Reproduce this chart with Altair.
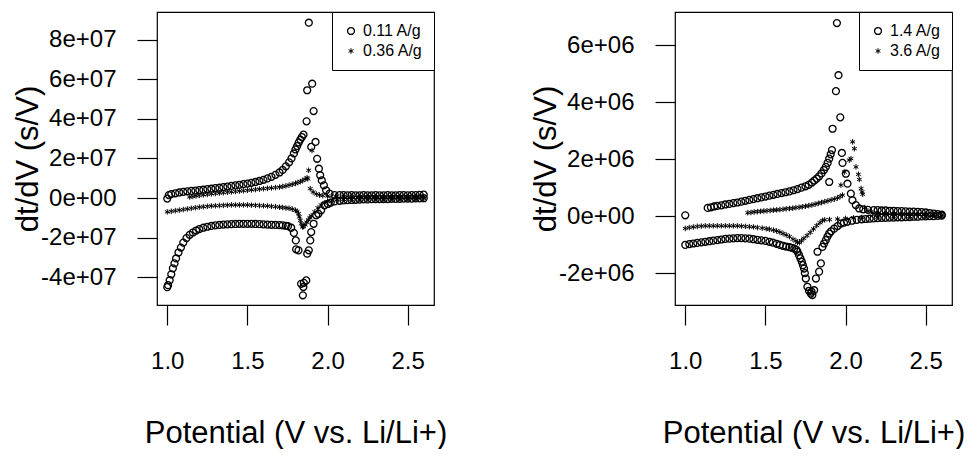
import altair as alt
import pandas as pd

FONT = "Liberation Sans"
STAR = "M0,-0.8L0,0.8M-0.7,-0.4L0.7,0.4M-0.7,0.4L0.7,-0.4"

# ---------------- left panel (y in units of 1e7 s/V) ----------------
left_labels = ["0.11 A/g", "0.36 A/g"]

a_chg_x = [1.00, 1.01, 1.025, 1.05, 1.075, 1.10, 1.125, 1.15, 1.175, 1.20, 1.225, 1.25, 1.275,
           1.30, 1.325, 1.35, 1.375, 1.40, 1.425, 1.45, 1.475, 1.50, 1.525, 1.55, 1.575, 1.60,
           1.625, 1.65, 1.675, 1.70, 1.72, 1.74, 1.76, 1.775, 1.79, 1.80, 1.81, 1.82, 1.83, 1.84,
           1.85, 1.869, 1.873, 1.883, 1.904, 1.913, 1.898, 1.925, 1.935, 1.946, 1.954, 1.964,
           1.977, 1.991, 2.012, 2.044, 2.075, 2.10, 2.125, 2.15, 2.175, 2.20, 2.225, 2.25, 2.275,
           2.30, 2.325, 2.35, 2.375, 2.40, 2.425, 2.45, 2.475, 2.50, 2.525, 2.55, 2.575, 2.60]
a_chg_y = [-0.03, 0.15, 0.20, 0.24, 0.28, 0.31, 0.34, 0.36, 0.38, 0.40, 0.42, 0.45, 0.47,
           0.50, 0.52, 0.55, 0.58, 0.61, 0.64, 0.67, 0.70, 0.73, 0.77, 0.81, 0.86, 0.92,
           0.99, 1.07, 1.17, 1.29, 1.42, 1.60, 1.80, 2.00, 2.25, 2.45, 2.62, 2.80, 2.95, 3.08,
           3.20, 3.87, 5.44, 8.85, 5.77, 4.39, 2.58, 2.83, 1.98, 1.48, 1.15, 0.89,
           0.64, 0.39, 0.22, 0.15, 0.15, 0.15, 0.14, 0.15, 0.14, 0.14, 0.15, 0.14, 0.14,
           0.15, 0.14, 0.14, 0.15, 0.14, 0.14, 0.15, 0.15, 0.14, 0.15, 0.15, 0.16, 0.17]

a_dis_x = [2.60, 2.575, 2.55, 2.525, 2.50, 2.475, 2.45, 2.425, 2.40, 2.375, 2.35, 2.325, 2.30,
           2.275, 2.25, 2.225, 2.20, 2.175, 2.15, 2.125, 2.10, 2.075, 2.044, 2.02, 2.002, 1.981,
           1.96, 1.943, 1.929, 1.913, 1.898, 1.892, 1.883, 1.873, 1.867, 1.852, 1.846, 1.849,
           1.835, 1.819, 1.804, 1.802, 1.79, 1.773, 1.753, 1.74, 1.72, 1.70, 1.675, 1.65, 1.625,
           1.60, 1.575, 1.55, 1.525, 1.50, 1.475, 1.45, 1.425, 1.40, 1.375, 1.35, 1.325, 1.30,
           1.275, 1.25, 1.225, 1.20, 1.18, 1.16, 1.14, 1.12, 1.10, 1.085, 1.07, 1.055, 1.045,
           1.035, 1.025, 1.015, 1.005, 1.00]
a_dis_y = [-0.01, -0.02, -0.02, -0.03, -0.03, -0.03, -0.04, -0.04, -0.04, -0.05, -0.05, -0.05, -0.06,
           -0.06, -0.07, -0.07, -0.08, -0.09, -0.10, -0.11, -0.12, -0.14, -0.17, -0.23, -0.30, -0.37,
           -0.62, -0.80, -0.87, -1.30, -1.72, -2.14, -2.64, -2.81, -4.16, -4.28, -4.91, -4.49,
           -4.33, -2.64, -2.59, -2.14, -1.76, -1.50, -1.42, -1.40, -1.38, -1.37, -1.36, -1.35, -1.34,
           -1.33, -1.32, -1.31, -1.30, -1.30, -1.30, -1.30, -1.31, -1.32, -1.33, -1.34, -1.36, -1.38,
           -1.41, -1.45, -1.50, -1.57, -1.64, -1.74, -1.86, -2.02, -2.25, -2.50, -2.75, -3.05, -3.30,
           -3.55, -3.85, -4.15, -4.40, -4.50]

b_chg_x = [1.14, 1.16, 1.18, 1.20, 1.225, 1.25, 1.275, 1.30, 1.325, 1.35, 1.375, 1.40, 1.425,
           1.45, 1.475, 1.50, 1.525, 1.55, 1.575, 1.60, 1.625, 1.65, 1.675, 1.70, 1.72, 1.74,
           1.76, 1.78, 1.80, 1.815, 1.83, 1.845, 1.86, 1.872, 1.877, 1.882, 1.892, 1.903, 1.91,
           1.93, 1.95, 1.97, 2.00, 2.05, 2.10, 2.15, 2.20, 2.25, 2.30, 2.35, 2.40, 2.45, 2.50,
           2.55, 2.60]
b_chg_y = [0.05, 0.08, 0.11, 0.13, 0.16, 0.18, 0.21, 0.23, 0.25, 0.27, 0.29, 0.31, 0.33,
           0.35, 0.37, 0.39, 0.41, 0.43, 0.45, 0.47, 0.49, 0.51, 0.53, 0.55, 0.58, 0.61,
           0.65, 0.69, 0.74, 0.78, 0.83, 0.88, 0.95, 1.02, 0.97, 1.40, 0.47, 2.40, 0.30,
           0.20, 0.15, 0.12, 0.10, 0.09, 0.08, 0.08, 0.07, 0.07, 0.06, 0.06, 0.06, 0.05, 0.05,
           0.05, 0.05]

b_dis_x = [2.60, 2.55, 2.50, 2.45, 2.40, 2.35, 2.30, 2.25, 2.20, 2.15, 2.10, 2.06, 2.03, 2.00,
           1.98, 1.96, 1.94, 1.92, 1.898, 1.89, 1.88, 1.87, 1.86, 1.85, 1.843, 1.836, 1.83,
           1.824, 1.819, 1.81, 1.80, 1.78, 1.76, 1.74, 1.72, 1.70, 1.675, 1.65, 1.625, 1.60,
           1.575, 1.55, 1.525, 1.50, 1.475, 1.45, 1.425, 1.40, 1.375, 1.35, 1.325, 1.30, 1.275,
           1.25, 1.225, 1.20, 1.175, 1.15, 1.125, 1.10, 1.075, 1.05, 1.025, 1.00]
b_dis_y = [-0.02, -0.02, -0.03, -0.03, -0.03, -0.04, -0.04, -0.04, -0.05, -0.06, -0.07, -0.08, -0.12, -0.18,
           -0.25, -0.35, -0.50, -0.70, -0.90, -1.00, -1.10, -1.22, -1.35, -1.44, -1.46, -1.30, -1.13,
           -0.95, -0.79, -0.68, -0.62, -0.56, -0.52, -0.50, -0.48, -0.46, -0.44, -0.42, -0.40, -0.39,
           -0.38, -0.37, -0.36, -0.35, -0.35, -0.35, -0.35, -0.35, -0.36, -0.37, -0.38, -0.39, -0.40,
           -0.42, -0.44, -0.46, -0.49, -0.52, -0.55, -0.58, -0.61, -0.64, -0.67, -0.70]

# ---------------- right panel (y in units of 1e6 s/V) ----------------
right_labels = ["1.4 A/g", "3.6 A/g"]

c_chg_x = [1.00, 1.14, 1.16, 1.18, 1.20, 1.225, 1.25, 1.275, 1.30, 1.325, 1.35, 1.375, 1.40,
           1.425, 1.45, 1.475, 1.50, 1.525, 1.55, 1.575, 1.60, 1.625, 1.65, 1.675, 1.70, 1.725,
           1.75, 1.77, 1.79, 1.805, 1.82, 1.835, 1.85, 1.865, 1.877, 1.888, 1.898, 1.898, 1.907,
           1.915, 1.919, 1.940, 1.946, 1.956, 1.967, 1.977, 1.981, 2.002, 2.012, 2.033, 2.043,
           2.064, 2.085, 2.11, 2.14, 2.175, 2.20, 2.225, 2.25, 2.275, 2.30, 2.325, 2.35, 2.375,
           2.40, 2.425, 2.45, 2.475, 2.50, 2.525, 2.55, 2.575, 2.60]
c_chg_y = [0.03, 0.29, 0.31, 0.34, 0.36, 0.38, 0.41, 0.43, 0.46, 0.48, 0.51, 0.54, 0.57,
           0.60, 0.63, 0.66, 0.69, 0.72, 0.75, 0.78, 0.81, 0.84, 0.87, 0.91, 0.95, 1.00,
           1.05, 1.10, 1.18, 1.25, 1.32, 1.40, 1.50, 1.62, 1.73, 1.87, 2.02, 1.20, 2.17,
           2.32, 3.07, 4.39, 6.78, 4.95, 3.47, 2.22, 1.87, 1.49, 1.14, 0.79, 0.56,
           0.39, 0.27, 0.24, 0.22, 0.21, 0.21, 0.20, 0.20, 0.19, 0.19, 0.18, 0.18, 0.17,
           0.16, 0.16, 0.15, 0.14, 0.13, 0.11, 0.09, 0.07, 0.05]

c_dis_x = [2.60, 2.575, 2.55, 2.525, 2.50, 2.475, 2.45, 2.425, 2.40, 2.375, 2.35, 2.325, 2.30,
           2.275, 2.25, 2.225, 2.20, 2.175, 2.15, 2.125, 2.10, 2.07, 2.04, 2.01, 1.99, 1.971,
           1.95, 1.929, 1.91, 1.898, 1.887, 1.877, 1.866, 1.856, 1.846, 1.835, 1.825, 1.815,
           1.804, 1.793, 1.783, 1.788, 1.772, 1.762, 1.752, 1.746, 1.741, 1.734, 1.727, 1.718,
           1.71, 1.70, 1.693, 1.68, 1.665, 1.65, 1.63, 1.61, 1.59, 1.57, 1.547, 1.525, 1.50,
           1.475, 1.45, 1.425, 1.40, 1.375, 1.35, 1.325, 1.30, 1.275, 1.25, 1.225, 1.20, 1.175,
           1.15, 1.125, 1.10, 1.075, 1.05, 1.025, 1.00]
c_dis_y = [0.02, 0.01, 0.00, 0.00, -0.01, -0.01, -0.02, -0.02, -0.03, -0.03, -0.04, -0.04, -0.05,
           -0.05, -0.06, -0.06, -0.07, -0.08, -0.09, -0.10, -0.11, -0.13, -0.16, -0.20, -0.23, -0.26,
           -0.35, -0.44, -0.53, -0.61, -0.72, -0.84, -0.96, -1.08, -1.66, -1.95, -1.25, -2.19,
           -2.60, -2.77, -2.72, -2.65, -2.62, -2.48, -2.19, -2.00, -1.84, -1.72, -1.60, -1.48,
           -1.37, -1.25, -1.18, -1.14, -1.11, -1.09, -1.07, -1.04, -1.01, -0.97, -0.93, -0.90, -0.87,
           -0.85, -0.83, -0.81, -0.79, -0.78, -0.77, -0.77, -0.78, -0.79, -0.80, -0.82, -0.84, -0.86,
           -0.88, -0.90, -0.92, -0.94, -0.96, -0.98, -1.01]

d_chg_x = [1.39, 1.41, 1.43, 1.45, 1.47, 1.49, 1.51, 1.53, 1.55, 1.57, 1.59, 1.61, 1.63, 1.65,
           1.67, 1.69, 1.71, 1.73, 1.75, 1.77, 1.79, 1.81, 1.83, 1.85, 1.87, 1.89, 1.91, 1.93,
           1.95, 1.971, 1.966, 1.981, 1.992, 2.023, 2.034, 2.044, 2.055, 2.065, 2.080, 2.086,
           2.097, 2.103, 2.107, 2.12, 2.14, 2.17, 2.20, 2.25, 2.30, 2.35, 2.40, 2.45, 2.50,
           2.55, 2.60]
d_chg_y = [0.12, 0.13, 0.15, 0.16, 0.17, 0.18, 0.19, 0.20, 0.21, 0.22, 0.23, 0.24, 0.26, 0.27,
           0.28, 0.30, 0.31, 0.33, 0.35, 0.37, 0.39, 0.42, 0.45, 0.48, 0.51, 0.54, 0.57, 0.60,
           0.64, 1.09, 0.69, 0.74, 1.55, 1.97, 2.02, 2.61, 2.37, 1.73, 1.47, 1.29,
           0.97, 0.85, 0.77, 0.30, 0.18, 0.12, 0.10, 0.09, 0.08, 0.07, 0.07, 0.06, 0.06,
           0.05, 0.05]

d_dis_x = [2.60, 2.50, 2.40, 2.30, 2.20, 2.10, 2.05, 2.00, 1.95, 1.90, 1.87, 1.856, 1.84, 1.82,
           1.80, 1.78, 1.76, 1.74, 1.725, 1.712, 1.70, 1.69, 1.672, 1.65, 1.63, 1.61, 1.59, 1.57,
           1.55, 1.525, 1.505, 1.48, 1.45, 1.425, 1.40, 1.375, 1.35, 1.325, 1.30, 1.275, 1.25,
           1.225, 1.20, 1.175, 1.15, 1.125, 1.10, 1.075, 1.05, 1.025, 1.00]
d_dis_y = [0.01, 0.00, -0.01, -0.02, -0.03, -0.05, -0.06, -0.08, -0.10, -0.12, -0.13, -0.15, -0.23, -0.33,
           -0.45, -0.57, -0.68, -0.78, -0.86, -0.93, -0.92, -0.87, -0.81, -0.72, -0.66, -0.61, -0.56, -0.52,
           -0.49, -0.46, -0.44, -0.42, -0.40, -0.38, -0.37, -0.36, -0.35, -0.34, -0.34, -0.34, -0.34,
           -0.34, -0.34, -0.34, -0.34, -0.34, -0.35, -0.36, -0.38, -0.40, -0.43]

x_ticks = [1.0, 1.5, 2.0, 2.5]
left_y_ticks = [-4, -2, 0, 2, 4, 6, 8]
right_y_ticks = [-2, 0, 2, 4, 6]


def build_df(labels, series):
    rows = []
    for lab, parts in zip(labels, series):
        for xs, ys in parts:
            for x, y in zip(xs, ys):
                rows.append({"x": x, "y": y, "series": lab})
    return pd.DataFrame(rows)


left_df = build_df(left_labels, [[(a_chg_x, a_chg_y), (a_dis_x, a_dis_y)],
                                 [(b_chg_x, b_chg_y), (b_dis_x, b_dis_y)]])
right_df = build_df(right_labels, [[(c_chg_x, c_chg_y), (c_dis_x, c_dis_y)],
                                   [(d_chg_x, d_chg_y), (d_dis_x, d_dis_y)]])


def panel(df, labels, ydom, yticks, exp):
    return alt.Chart(df).mark_point(
        filled=False, size=48, color="black", opacity=1
    ).encode(
        x=alt.X("x:Q",
                scale=alt.Scale(domain=[0.936, 2.664], nice=False, zero=False),
                axis=alt.Axis(values=x_ticks, format=".1f",
                              title="Potential (V vs. Li/Li+)")),
        y=alt.Y("y:Q",
                scale=alt.Scale(domain=ydom, nice=False, zero=False),
                axis=alt.Axis(values=yticks,
                              labelExpr="datum.value == 0 ? '0e+00' : datum.value + 'e+" + exp + "'",
                              title="dt/dV (s/V)")),
        shape=alt.Shape("series:N",
                        scale=alt.Scale(domain=labels, range=["circle", STAR]),
                        legend=alt.Legend(title=None, orient="top-right",
                                          labelFontSize=16, symbolSize=48)),
        strokeWidth=alt.StrokeWidth("series:N",
                                    scale=alt.Scale(domain=labels, range=[1.3, 1.0]),
                                    legend=None),
    ).properties(width=277, height=293)


left = panel(left_df, left_labels, [-5.40, 9.39], left_y_ticks, "07")
right = panel(right_df, right_labels, [-3.12, 7.17], right_y_ticks, "06")

chart = alt.hconcat(left, right, spacing=82, padding={"left": 4, "top": 2, "right": 0, "bottom": 0}
).resolve_scale(
    shape="independent", strokeWidth="independent", x="independent", y="independent"
).configure_view(
    stroke="black", strokeWidth=1.2
).configure_axis(
    grid=False, domain=False, tickColor="black", tickSize=20, tickWidth=1.2,
    labelFont=FONT, labelFontSize=24, labelColor="black", labelFlush=False,
    labelOverlap=False, titleFont=FONT, titleFontSize=31, titleFontWeight="normal",
    titleColor="black"
).configure_axisX(
    labelPadding=24, titlePadding=45
).configure_axisY(
    labelPadding=21, titlePadding=-4, labelAngle=0
).configure_legend(
    strokeColor="black", padding=11, offset=0, fillColor="white",
    labelFont=FONT, labelFontSize=16, labelColor="black", symbolSize=48,
    symbolStrokeWidth=1.2, symbolStrokeColor="black", symbolFillColor="transparent",
    rowPadding=4, labelOffset=4, cornerRadius=0
)

chart.save("out.html", embed_options={"renderer": "svg", "actions": False})
